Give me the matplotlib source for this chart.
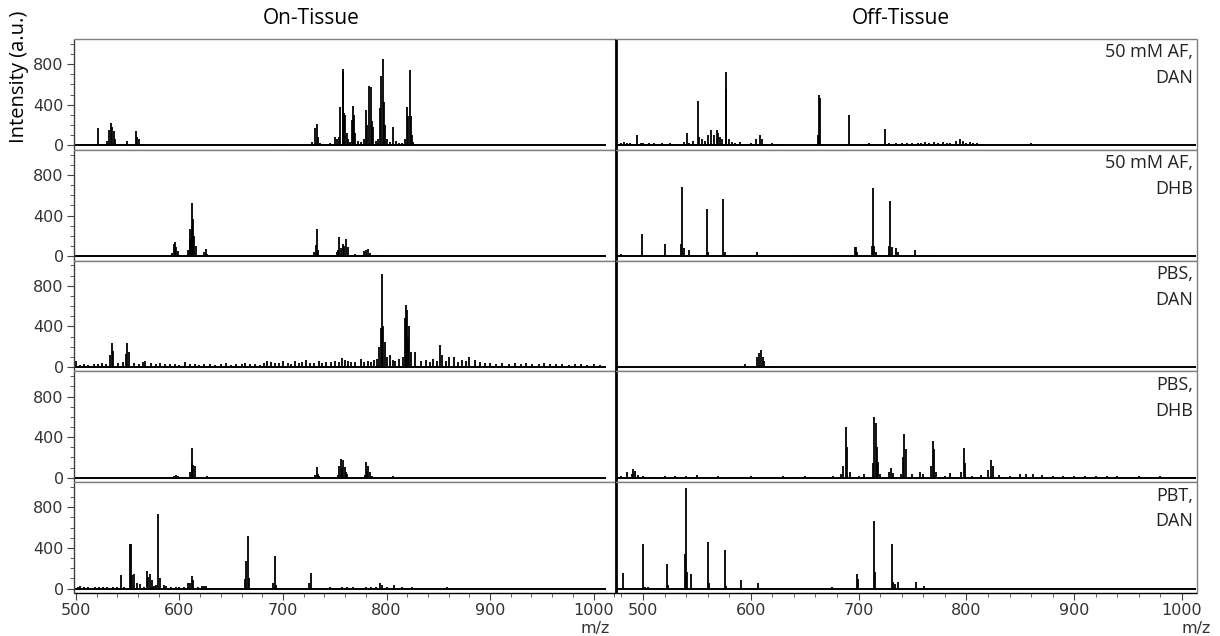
"""Mass spectra, on-tissue vs off-tissue"""

import matplotlib
matplotlib.use('Agg')
import matplotlib.pyplot as plt
from matplotlib.ticker import MultipleLocator

# ---------------- data (m/z, intensity in a.u.) ----------------
row_labels = ['50 mM AF,\nDAN', '50 mM AF,\nDHB', 'PBS,\nDAN', 'PBS,\nDHB', 'PBT,\nDAN']
col_titles = ['On-Tissue', 'Off-Tissue']

# On-tissue
on_afdan_mz = [505, 512, 516, 521, 525, 530, 532, 533.5, 535, 536.5, 538, 545, 549.5, 558,
               559, 560.5, 565, 600, 615, 690, 695, 700, 705, 728, 730.5, 732.5, 733.5, 736,
               742, 745, 748, 750, 752, 754, 755.5, 757.5, 758.3, 759, 760, 761.5, 763, 765,
               767, 768, 769, 770, 772, 775, 778, 780, 781, 782.7, 784.6, 785.5, 787, 790,
               792, 794, 795, 796.4, 797.3, 798.5, 800, 803, 806.7, 809, 812, 815, 818, 820,
               821.2, 822.3, 823.2, 824.5, 826, 840, 940]
on_afdan_int = [10, 12, 10, 167, 15, 40, 150, 223, 180, 140, 60, 15, 40, 140,
                80, 60, 15, 10, 10, 10, 10, 12, 10, 30, 173, 207, 80, 20,
                15, 20, 15, 80, 60, 80, 380, 750, 720, 320, 300, 120, 60, 30,
                250, 383, 300, 120, 40, 30, 60, 345, 200, 580, 570, 240, 180, 40,
                60, 370, 680, 850, 430, 200, 60, 30, 180, 40, 20, 25, 60, 380,
                290, 745, 290, 100, 30, 10, 8]

on_afdhb_mz = [593, 595, 596, 597, 598.5, 600, 608, 609.7, 610.5, 611.6, 612.3, 612.8, 614,
               615.5, 624, 625.7, 627, 730, 731.5, 732.4, 733.5, 752, 753, 754.5, 756, 757.6,
               759, 761, 762.5, 770, 776, 778, 780, 782, 784, 790, 792]
on_afdhb_int = [30, 119, 140, 90, 50, 15, 60, 270, 170, 525, 300, 370, 200,
                100, 40, 75, 20, 40, 110, 270, 60, 40, 60, 190, 80, 120,
                100, 170, 90, 25, 15, 50, 60, 70, 30, 15, 12]

on_pbsdan_mz = [500, 504, 508, 512, 517, 521, 525, 529, 533, 534.5, 536, 541, 545, 548,
                549.5, 551, 556, 561, 565, 567, 572, 577, 581, 586, 591, 596, 600, 605, 610,
                615, 619, 624, 629, 634, 640, 645, 650, 655, 660, 663, 668, 673, 678, 682,
                685, 688, 692, 696, 700, 705, 708, 712, 715, 718, 722, 726, 730, 735, 738,
                742, 746, 750, 754, 757, 760, 763, 766, 770, 775, 778, 782, 785, 788, 791,
                793, 795, 796, 797, 798.5, 800, 803, 806, 808, 812, 816, 818, 819, 820, 821,
                822, 824, 828, 833, 838, 842, 845, 849, 852, 854, 857, 860, 865, 869, 873,
                877, 880, 885, 890, 895, 900, 906, 912, 918, 924, 930, 935, 941, 947, 952,
                958, 964, 970, 976, 982, 988, 994, 1000, 1006]
on_pbsdan_int = [60, 20, 25, 20, 30, 25, 40, 30, 120, 236, 160, 40, 50, 130,
                 240, 150, 40, 30, 50, 60, 35, 30, 40, 30, 25, 30, 20, 45, 30,
                 25, 20, 30, 25, 20, 25, 35, 20, 25, 30, 40, 25, 30, 20, 35,
                 60, 50, 40, 35, 55, 40, 30, 60, 40, 45, 70, 40, 35, 60, 40,
                 50, 45, 60, 50, 90, 70, 60, 45, 50, 80, 45, 60, 50, 70, 80,
                 200, 380, 920, 400, 250, 100, 120, 70, 60, 80, 100, 480, 610, 560, 300,
                 400, 150, 150, 60, 70, 50, 80, 60, 220, 120, 60, 100, 100, 50, 70,
                 60, 100, 70, 50, 40, 35, 30, 40, 30, 35, 25, 40, 30, 25, 40,
                 30, 25, 30, 20, 25, 30, 20, 25, 20]

on_pbsdhb_mz = [595, 597, 598.5, 610, 611.6, 612.5, 613.5, 615, 627, 731, 732.4, 733.5, 735,
                753, 754, 756, 757, 758, 760, 761, 762, 779, 780, 781, 782, 784, 786, 806]
on_pbsdhb_int = [15, 30, 20, 60, 290, 150, 130, 120, 15, 30, 110, 40, 20,
                 30, 120, 190, 100, 180, 110, 60, 40, 30, 160, 70, 120, 60, 20, 15]

on_pbtdan_mz = [502, 504, 508, 512, 518, 522, 526, 530, 536, 540, 543.8, 546, 552.6, 553.4,
                554.5, 556, 559, 562, 566, 568.6, 569.8, 571.6, 573, 575, 577, 579.6, 581,
                585, 587, 592, 597, 600, 604, 608, 610.5, 612.4, 613.5, 618, 622, 623.8, 626,
                635, 650, 663, 664.6, 665.7, 666.9, 675, 690, 692, 693, 710, 725, 726.7, 735,
                745, 757, 762, 768, 772, 780, 785, 790, 794, 796, 800, 807, 815, 825, 835,
                845, 858, 880, 900, 921, 940, 962, 985, 1000]
on_pbtdan_int = [20, 25, 15, 20, 15, 20, 12, 15, 15, 20, 134, 20, 443, 440,
                 130, 140, 60, 50, 20, 175, 110, 140, 80, 30, 40, 735, 100,
                 40, 30, 20, 15, 20, 15, 60, 60, 125, 80, 20, 30, 30, 25,
                 10, 8, 90, 270, 520, 100, 10, 60, 320, 40, 10, 60, 150, 10,
                 15, 20, 15, 20, 10, 15, 20, 15, 60, 40, 20, 40, 15, 15, 10,
                 10, 20, 8, 8, 8, 8, 8, 8, 8]

# Off-tissue
off_afdan_mz = [478, 480, 482, 485, 488, 490, 494.9, 498, 500, 503, 506, 510, 513, 515, 518,
                520, 525, 528, 530, 535, 538, 540.8, 543, 546, 550.7, 552, 555, 558, 560, 563,
                566, 568.3, 570, 571.5, 573, 576.7, 577.3, 580, 583, 585, 590, 593, 596, 600,
                605, 608.5, 610, 615, 620, 625, 630, 640, 645, 650, 662.5, 663.6, 664.5, 668,
                680, 691.1, 695, 700, 705, 710, 715, 720, 724.9, 728, 730, 735, 740, 745, 750,
                755, 758, 762, 765, 770, 774, 778, 782, 785, 790, 793.8, 797, 800, 803, 806,
                810, 815, 820, 828, 835, 848, 860, 875, 888, 903, 925, 960, 975, 990]
off_afdan_int = [15, 20, 30, 25, 20, 15, 100, 25, 20, 15, 25, 20, 15, 10, 20,
                 15, 20, 15, 10, 15, 30, 123, 25, 40, 440, 80, 60, 40, 100, 150,
                 100, 150, 120, 80, 60, 726, 560, 60, 30, 20, 30, 15, 15, 20,
                 60, 100, 60, 15, 20, 15, 10, 8, 10, 8, 100, 495, 470, 12,
                 10, 300, 12, 10, 15, 20, 15, 15, 160, 20, 15, 20, 25, 20, 25,
                 20, 20, 30, 25, 30, 25, 30, 20, 25, 40, 60, 40, 25, 30, 20,
                 20, 15, 15, 10, 10, 12, 20, 10, 10, 8, 10, 8, 12, 8]

off_afdhb_mz = [480, 499.4, 520.6, 535, 536.4, 538, 543, 559.1, 560, 574.5, 576, 590, 600,
                605.7, 645, 680, 697, 697.6, 699, 712, 713.1, 714, 716, 728, 729.6, 731, 735,
                737, 752.5, 760, 768]
off_afdhb_int = [20, 220, 119, 120, 678, 80, 60, 468, 40, 560, 40, 10, 10,
                 40, 8, 8, 95, 90, 40, 100, 668, 100, 40, 100, 540, 90, 80,
                 40, 60, 10, 10]

off_pbsdan_mz = [595, 606, 608, 609.5, 611, 612.5, 620]
off_pbsdan_int = [25, 100, 140, 170, 100, 60, 10]

off_pbsdhb_mz = [480, 485, 490, 491, 493, 495, 500, 510, 520, 530, 540, 550, 560, 570, 580,
                 590, 600, 610, 620, 630, 640, 650, 660, 670, 676, 684, 686, 688, 689, 692,
                 700, 705, 713, 714.5, 715.7, 717, 718, 720, 728, 730, 732, 739, 741, 742,
                 744, 750, 757, 760, 767, 769, 770, 772, 780, 785, 795, 797.4, 799, 805, 814,
                 820, 822.9, 825, 830, 840, 850, 855, 862, 870, 880, 890, 900, 910, 920, 930,
                 940, 950, 960, 970, 980, 990, 1000, 1008]
off_pbsdhb_int = [20, 60, 40, 90, 70, 30, 15, 12, 18, 15, 15, 30, 12, 15, 10,
                  12, 15, 12, 10, 15, 12, 15, 10, 12, 15, 40, 120, 500, 300, 60,
                  20, 40, 150, 600, 540, 300, 160, 40, 60, 100, 50, 40, 200, 430,
                  280, 40, 60, 40, 120, 360, 280, 60, 20, 50, 60, 290, 150, 20, 30,
                  80, 175, 120, 30, 20, 40, 40, 35, 25, 20, 18, 15, 20, 15, 18,
                  15, 12, 15, 12, 15, 12, 10, 12]

off_pbtdan_mz = [481.7, 500, 502, 505, 522, 523, 538.6, 540, 541, 544.3, 560, 561, 575.8, 577,
                 590.5, 607, 675, 698.5, 699.5, 714.3, 715, 730.8, 732, 734, 736.3, 753.5,
                 761]
off_pbtdan_int = [157, 442, 15, 20, 239, 40, 337, 993, 160, 140, 455, 60, 377, 30,
                  80, 55, 15, 140, 90, 668, 160, 435, 70, 50, 70, 70,
                  30]

on_tissue = [(on_afdan_mz, on_afdan_int), (on_afdhb_mz, on_afdhb_int),
             (on_pbsdan_mz, on_pbsdan_int), (on_pbsdhb_mz, on_pbsdhb_int),
             (on_pbtdan_mz, on_pbtdan_int)]
off_tissue = [(off_afdan_mz, off_afdan_int), (off_afdhb_mz, off_afdhb_int),
              (off_pbsdan_mz, off_pbsdan_int), (off_pbsdhb_mz, off_pbsdhb_int),
              (off_pbtdan_mz, off_pbtdan_int)]

# acquired m/z range of each column (baseline extent)
on_range = [498, 1012]
off_range = [475, 1013]

# ---------------- figure ----------------
fig = plt.figure(figsize=(12.2, 6.36), dpi=100)
W, H = 1220.0, 636.0
top_px, bot_px = 39.0, 593.0
ph = (bot_px - top_px) / 5
gray = '#7f7f7f'
label_font = 'Open Sans'

cols = [(73.5, 616.0, (497.6, 1021.7), on_tissue, on_range),
        (616.0, 1197.0, (475.0, 1013.9), off_tissue, off_range)]

for c, (x0, x1, xlim, spectra, rng) in enumerate(cols):
    for r in range(5):
        y_top = top_px + r * ph
        ax = fig.add_axes([x0 / W, 1 - (y_top + ph) / H, (x1 - x0) / W, ph / H])
        mz, inten = spectra[r]
        ax.hlines(0, rng[0], rng[1], color='black', lw=1.4)
        ax.vlines(mz, 0, inten, color='black', lw=1.3)
        ax.set_xlim(*xlim)
        ax.set_ylim(-43, 1047)
        for s in ax.spines.values():
            s.set_color(gray)
            s.set_linewidth(1.0)
            s.set_capstyle('butt')
        ax.xaxis.set_major_locator(MultipleLocator(100))
        ax.xaxis.set_minor_locator(MultipleLocator(20))
        ax.yaxis.set_major_locator(MultipleLocator(400))
        ax.yaxis.set_minor_locator(MultipleLocator(100))
        ax.tick_params(axis='both', which='both', colors='#404040', labelsize=11.5,
                       labelcolor='#333333', direction='out', pad=2)
        ax.tick_params(which='major', length=5)
        ax.tick_params(which='minor', length=3)
        if r < 4:
            ax.tick_params(axis='x', which='both', bottom=False, labelbottom=False)
        if c == 0:
            ax.spines['left'].set_color('#404040')
        else:
            ax.spines['left'].set_color('black')
            ax.spines['left'].set_linewidth(2.0)
            ax.tick_params(axis='y', which='both', left=False, labelleft=False)
            ax.text(0.993, 0.96, row_labels[r], transform=ax.transAxes, ha='right',
                    va='top', fontsize=13, family=label_font, color='#222222',
                    linespacing=1.55)
        if r == 4:
            ax.spines['bottom'].set_color('black')

fig.text(311 / W, 1 - 18 / H, col_titles[0], ha='center', va='center',
         fontsize=15, family=label_font)
fig.text(901 / W, 1 - 18 / H, col_titles[1], ha='center', va='center',
         fontsize=15, family=label_font)
fig.text(19 / W, 1 - 77 / H, 'Intensity (a.u.)', rotation=90, ha='center',
         va='center', fontsize=14.5, family=label_font)
fig.text(595 / W, 1 - 628 / H, 'm/z', ha='center', va='center', fontsize=11.5,
         color='#333333')
fig.text(1196 / W, 1 - 628 / H, 'm/z', ha='center', va='center', fontsize=11.5,
         color='#333333')

fig.savefig('out.png', dpi=100)
